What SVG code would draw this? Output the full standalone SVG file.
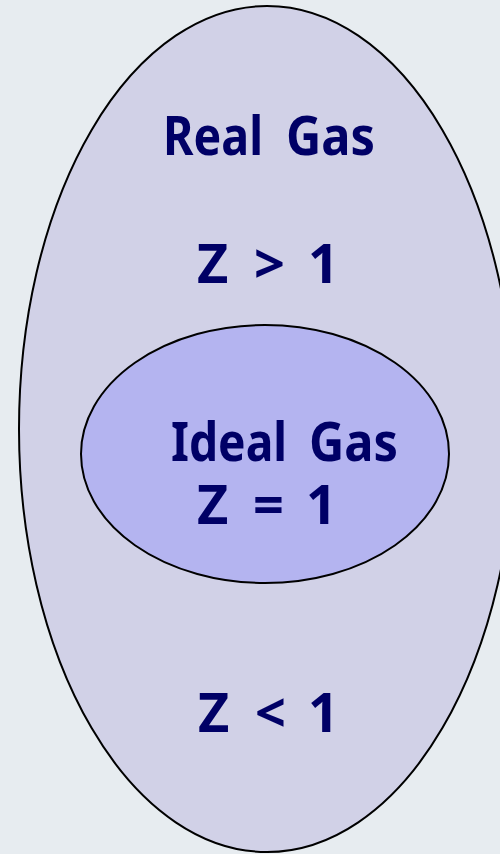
<svg xmlns="http://www.w3.org/2000/svg" width="500" height="854" viewBox="0 0 500 854">
<style>
.lbl{font-family:"Noto Sans","Open Sans","DejaVu Sans",sans-serif;font-weight:bold;font-size:54px;fill:#000066}
.shape{stroke:#000;stroke-width:2}
</style>
<rect width="500" height="854" fill="#e7ecf0"/>
<g id="real-gas">
<ellipse class="shape" cx="267" cy="429" rx="248" ry="423" fill="#d1d1e7"/>
<text class="lbl" y="155"><tspan x="163" textLength="100" lengthAdjust="spacingAndGlyphs">Real</tspan> <tspan x="286" textLength="89" lengthAdjust="spacingAndGlyphs">Gas</tspan></text>
<text class="lbl" y="283" x="197 240 254 295 308">Z &gt; 1</text>
<text class="lbl" y="732" x="198 240 255 295 308">Z &lt; 1</text>
</g>
<g id="ideal-gas">
<ellipse class="shape" cx="265" cy="454" rx="184" ry="129" fill="#b4b4f0"/>
<text class="lbl" y="461"><tspan x="171" textLength="116" lengthAdjust="spacingAndGlyphs">Ideal</tspan> <tspan x="309" textLength="89" lengthAdjust="spacingAndGlyphs">Gas</tspan></text>
<text class="lbl" y="524" x="197 240 253 295 306">Z = 1</text>
</g>
<g id="connectors"/>
</svg>
